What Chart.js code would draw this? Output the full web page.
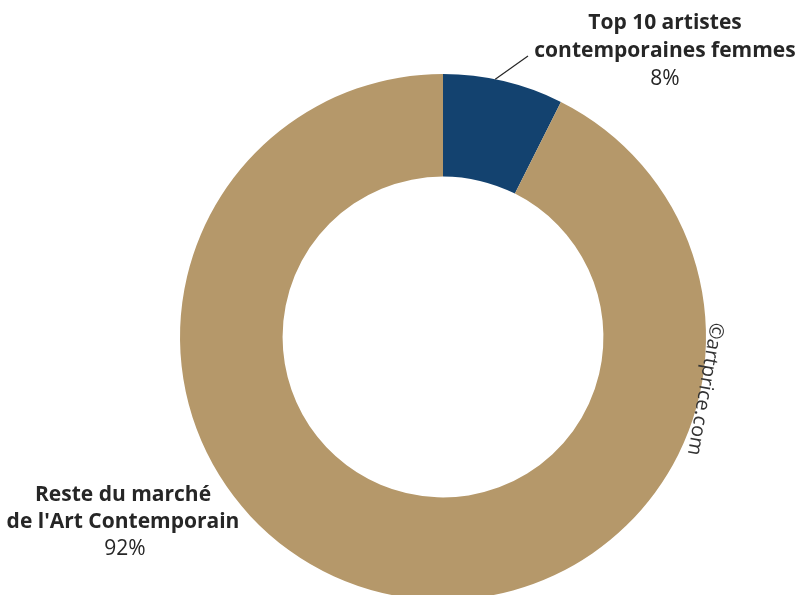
<!DOCTYPE html>
<html><head><meta charset="utf-8">
<script src="https://cdn.jsdelivr.net/npm/chart.js@4"></script>
<style>
html,body{margin:0;padding:0;background:#fff;overflow:hidden;width:798px;height:595px;}
#wrap{position:absolute;left:0;top:0;width:798px;height:674px;}
</style></head><body>
<div id="wrap"><canvas id="c" width="798" height="674"></canvas></div>
<script>
const categories = [["Top 10 artistes","contemporaines femmes"],["Reste du marché","de l'Art Contemporain"]];
const values = [7.4, 92.6];
const valueLabels = ["8%","92%"];
const colors = ["#13426f","#b5986a"];
const credit = "©artprice.com";

const labelPlugin = {
  id:'labels',
  afterDraw(chart){
    const ctx = chart.ctx;
    const meta = chart.getDatasetMeta(0);
    const a0 = meta.data[0];
    const cx = a0.x, cy = a0.y, R = a0.outerRadius;
    ctx.save();
    ctx.fillStyle = '#262626';
    ctx.textAlign = 'center';
    ctx.textBaseline = 'middle';
    // label 1 (top right)
    const l1x = cx + 222, l1y = cy - 314;
    ctx.font = 'bold 21px "Open Sans"';
    ctx.fillText(categories[0][0], l1x, l1y);
    ctx.fillText(categories[0][1], l1x, l1y + 28);
    ctx.font = '21px "Open Sans"';
    ctx.fillText(valueLabels[0], l1x, l1y + 56);
    // leader line
    ctx.strokeStyle = '#262626';
    ctx.lineWidth = 1.2;
    ctx.beginPath();
    const ang = -Math.PI/2 + 0.2;
    ctx.moveTo(cx + R*Math.cos(ang), cy + R*Math.sin(ang));
    ctx.lineTo(cx + 85, cy - 281);
    ctx.stroke();
    // label 2 (bottom left)
    const l2x = cx - 320, l2y = cy + 158;
    ctx.font = 'bold 21px "Open Sans"';
    ctx.fillText(categories[1][0], l2x, l2y);
    ctx.fillText(categories[1][1], l2x, l2y + 27);
    ctx.font = '21px "Open Sans"';
    ctx.fillText(valueLabels[1], l2x + 2, l2y + 54);
    // credit
    ctx.translate(cx + 262, cy + 52);
    ctx.rotate(100 * Math.PI/180);
    ctx.font = '20px "Open Sans"';
    ctx.fillStyle = '#333';
    ctx.fillText(credit, 0, 0);
    ctx.restore();
  }
};

new Chart(document.getElementById('c'), {
  type:'doughnut',
  data:{
    labels: categories.map(c=>c.join(' ')),
    datasets:[{data:values, backgroundColor:colors, borderWidth:0}]
  },
  options:{
    responsive:false,
    animation:false,
    cutout:'61%',
    layout:{padding:{left:180,right:92,top:74,bottom:74}},
    plugins:{legend:{display:false},tooltip:{enabled:false}}
  },
  plugins:[labelPlugin]
});
</script>
</body></html>
